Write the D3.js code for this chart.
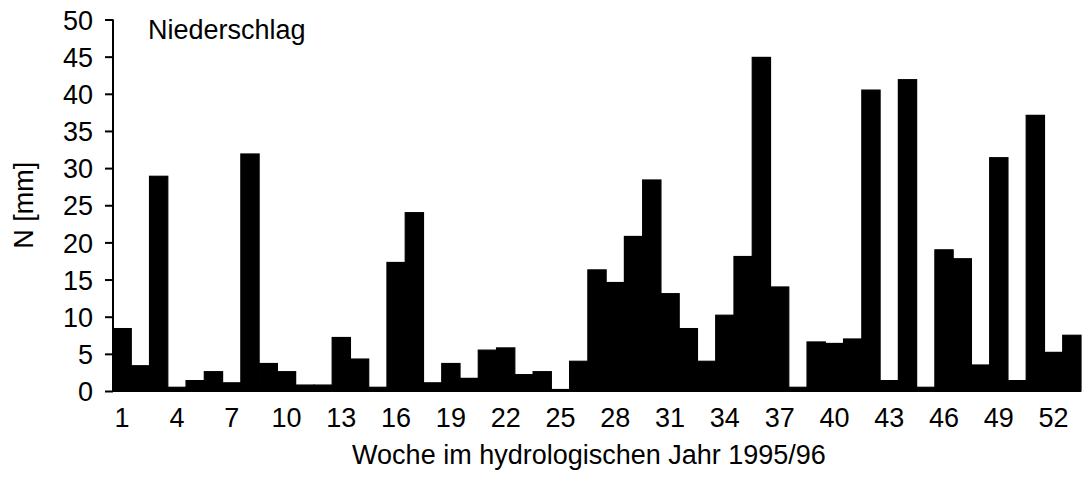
<!DOCTYPE html>
<html>
<head>
<meta charset="utf-8">
<script src="https://cdn.jsdelivr.net/npm/d3@7"></script>
<style>
  html, body { margin: 0; padding: 0; background: #fff; }
  svg { display: block; }
  text { font-family: "Liberation Sans", Arial, sans-serif; fill: #000; }
</style>
</head>
<body>
<svg id="chart" width="1084" height="477"></svg>
<script>
// Weekly precipitation, hydrological year 1995/96 (weeks 1–53)
const weeks = d3.range(1, 54);
const precipitation = [
  8.4, 3.4, 28.9, 0.5, 1.4, 2.6, 1.1, 31.9, 3.7, 2.6,
  0.8, 0.8, 7.2, 4.3, 0.5, 17.3, 24.0, 1.1, 3.7, 1.7,
  5.5, 5.8, 2.2, 2.6, 0.2, 4.0, 16.3, 14.6, 20.8, 28.4,
  13.1, 8.4, 4.0, 10.2, 18.1, 44.9, 14.0, 0.5, 6.6, 6.4,
  7.0, 40.5, 1.4, 41.9, 0.5, 19.0, 17.8, 3.5, 31.4, 1.4,
  37.1, 5.2, 7.5
];
const yTicks = d3.range(0, 51, 5);
const xTickLabels = [1, 4, 7, 10, 13, 16, 19, 22, 25, 28, 31, 34, 37, 40, 43, 46, 49, 52];

const svg = d3.select("#chart");
const margin = { left: 113, right: 3, top: 19.5, bottom: 86 };
const width = 1084, height = 477;
const fontSize = 27;

const x = d3.scaleBand()
  .domain(weeks)
  .range([margin.left, width - margin.right])
  .padding(0);

const y = d3.scaleLinear()
  .domain([0, 50])
  .range([height - margin.bottom, margin.top]);

// Bars
svg.append("g")
  .selectAll("rect")
  .data(weeks)
  .join("rect")
  .attr("x", d => x(d))
  .attr("width", x.bandwidth())
  .attr("y", (d, i) => y(precipitation[i]))
  .attr("height", (d, i) => y(0) - y(precipitation[i]))
  .attr("fill", "#000")
  .attr("stroke", "#000")
  .attr("stroke-width", 1.2);

// Y axis
const yAxis = svg.append("g")
  .attr("transform", `translate(${margin.left},0)`)
  .call(d3.axisLeft(y).tickValues(yTicks).tickSize(8).tickPadding(12));
yAxis.selectAll("path, line").attr("stroke", "#000").attr("stroke-width", 2);
yAxis.select(".domain").attr("d", `M0,${y(50)}V${y(0)}`);
yAxis.selectAll("text")
  .style("font-family", "'Liberation Sans', Arial, sans-serif")
  .attr("font-size", fontSize)
  .attr("dy", "0.36em");

// X axis (line and labels, no ticks)
const xAxis = svg.append("g")
  .attr("transform", `translate(0,${y(0)})`)
  .call(d3.axisBottom(x).tickValues(xTickLabels).tickSize(0).tickPadding(17));
xAxis.select(".domain")
  .attr("stroke", "#000")
  .attr("stroke-width", 2)
  .attr("d", `M${margin.left},0H${width - margin.right}`);
xAxis.selectAll("text")
  .style("font-family", "'Liberation Sans', Arial, sans-serif")
  .attr("font-size", fontSize)
  .attr("dy", "0.71em");

// Axis titles
svg.append("text")
  .attr("transform", `translate(33,${(y(0) + y(50)) / 2}) rotate(-90)`)
  .attr("text-anchor", "middle")
  .attr("font-size", fontSize)
  .text("N [mm]");

svg.append("text")
  .attr("x", 589)
  .attr("y", 464)
  .attr("text-anchor", "middle")
  .attr("font-size", fontSize)
  .text("Woche im hydrologischen Jahr 1995/96");

// Panel label
svg.append("text")
  .attr("x", 148)
  .attr("y", 39)
  .attr("font-size", fontSize)
  .text("Niederschlag");
</script>
</body>
</html>
